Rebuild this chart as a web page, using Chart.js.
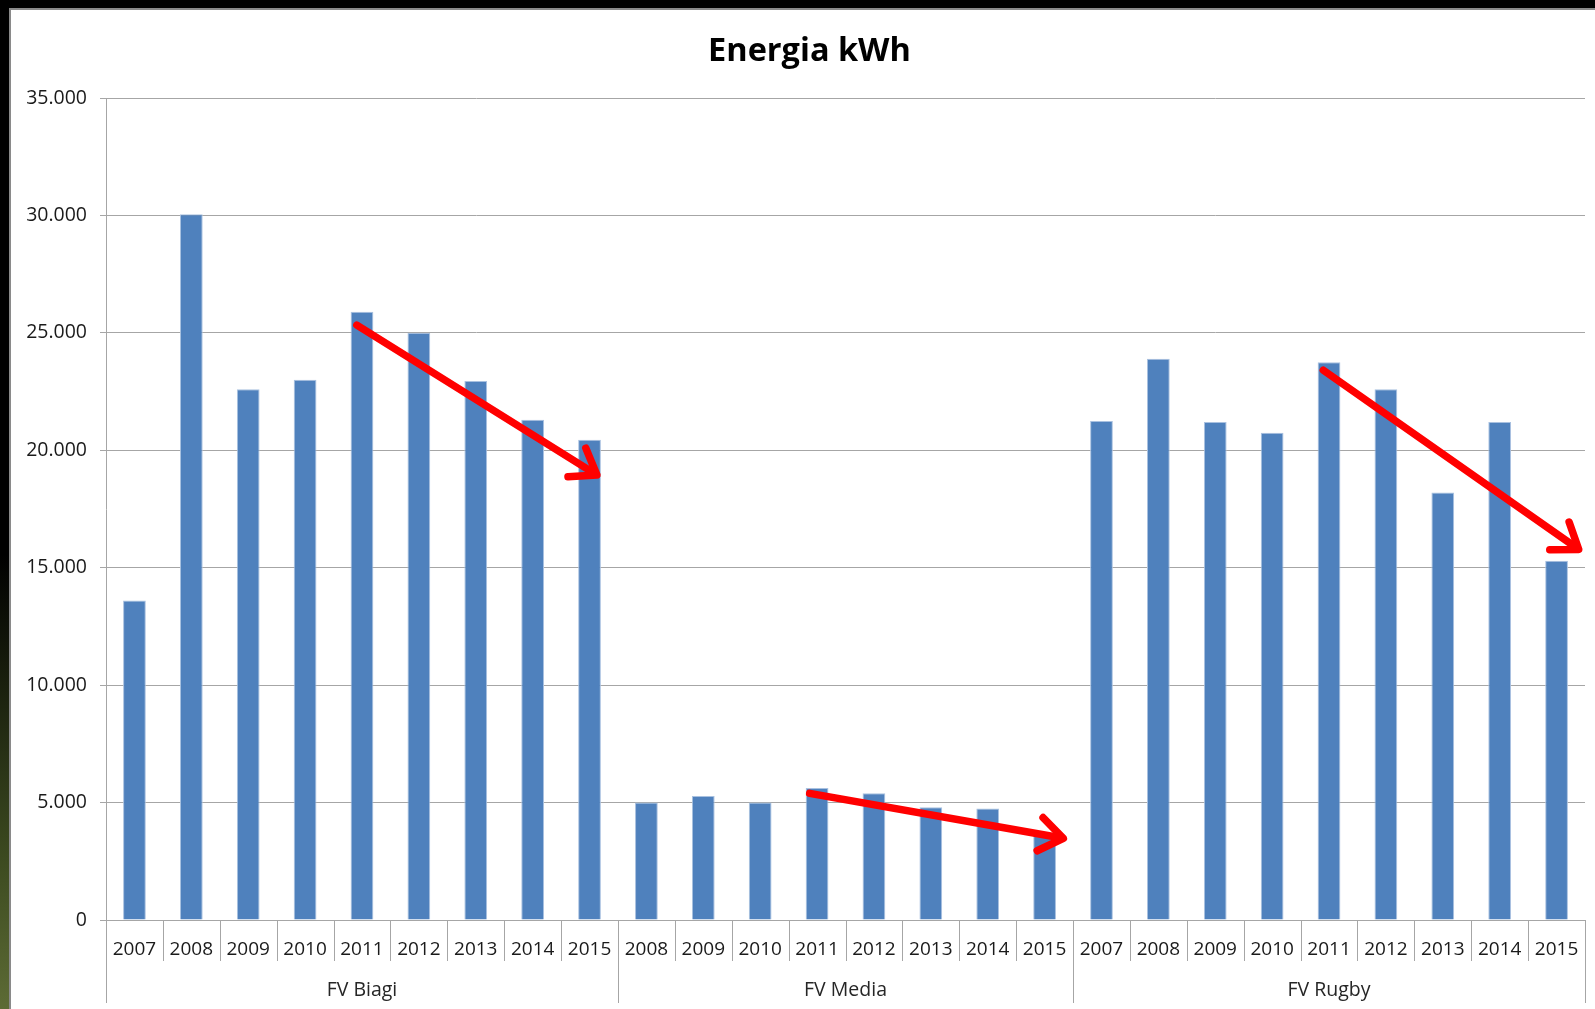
<!DOCTYPE html>
<html>
<head>
<meta charset="utf-8">
<title>Energia kWh</title>
<script src="https://cdn.jsdelivr.net/npm/chart.js@4/dist/chart.umd.min.js"></script>
<style>
  html, body { margin: 0; padding: 0; }
  body {
    width: 1595px; height: 1009px; overflow: hidden;
    background: linear-gradient(to bottom, #000 0%, #000 55%, #3c4a20 85%, #5d6b35 100%);
    position: relative;
  }
  #frame {
    position: absolute; left: 9px; top: 8px; right: 0; bottom: 0;
    background: #fff;
    border-left: 2px solid #8a8a8a;
    border-top: 2px solid #8a8a8a;
  }
  #wrap { position: absolute; left: 0; top: 0; width: 1595px; height: 1009px; }
</style>
</head>
<body>
<div id="frame"></div>
<div id="wrap"><canvas id="energyChart"></canvas></div>

<script>
// ---- data ----
const chartTitle = "Energia kWh";
const groups = ["FV Biagi", "FV Media", "FV Rugby"];
const biagiYears = ["2007", "2008", "2009", "2010", "2011", "2012", "2013", "2014", "2015"];
const mediaYears = ["2008", "2009", "2010", "2011", "2012", "2013", "2014", "2015"];
const rugbyYears = ["2007", "2008", "2009", "2010", "2011", "2012", "2013", "2014", "2015"];

const biagiValues = [13600, 30050, 22600, 23000, 25900, 25000, 22950, 21300, 20450];
const mediaValues = [5000, 5280, 5000, 5620, 5400, 4800, 4750, 3600];
const rugbyValues = [21250, 23900, 21200, 20750, 23750, 22600, 18200, 21200, 15300];

const yTicks = [0, 5000, 10000, 15000, 20000, 25000, 30000, 35000];

// red trend arrows: [start category index, start value, end category index, end value]
const trendArrows = [
  [3.91, 25330, 8.13, 18950],
  [11.87, 5390, 16.33, 3480],
  [20.90, 23410, 25.39, 15780]
];

// ---- build ----
const labels = [...biagiYears, ...mediaYears, ...rugbyYears];
const values = [...biagiValues, ...mediaValues, ...rugbyValues];
const groupSizes = [biagiYears.length, mediaYears.length, rugbyYears.length];

const FONT = "'Open Sans', 'Noto Sans', sans-serif";

function fmtIt(v) {
  return v.toLocaleString("it-IT");
}

/* =========================
   TITLE (slightly off-centre, like the original)
========================= */
const titlePlugin = {
  id: "offTitle",
  afterDraw(chart) {
    const ctx = chart.ctx;
    ctx.save();
    ctx.fillStyle = "#000";
    ctx.font = "bold 32.5px " + FONT;
    ctx.textAlign = "center";
    ctx.textBaseline = "middle";
    ctx.fillText(chartTitle, chart.width / 2 + 12, 52);
    ctx.restore();
  }
};

/* =========================
   GROUPED X AXIS
========================= */
const groupAxisPlugin = {
  id: "groupAxis",
  afterDraw(chart) {
    const ctx = chart.ctx;
    const x = chart.scales.x;
    const area = chart.chartArea;
    const step = x.getPixelForValue(1) - x.getPixelForValue(0);
    const shortEnd = area.bottom + 41;
    const longEnd = area.bottom + 83;

    ctx.save();
    ctx.strokeStyle = "#a6a6a6";
    ctx.lineWidth = 1;

    // boundaries between years
    const bounds = [0];
    let acc = 0;
    groupSizes.forEach(n => { acc += n; bounds.push(acc); });

    for (let i = 0; i <= labels.length; i++) {
      const px = Math.round(x.getPixelForValue(i) - step / 2) + 0.5;
      const end = bounds.includes(i) ? longEnd : shortEnd;
      ctx.beginPath();
      ctx.moveTo(px, area.bottom);
      ctx.lineTo(px, end);
      ctx.stroke();
    }

    // group names
    ctx.fillStyle = "#262626";
    ctx.font = "19.5px " + FONT;
    ctx.textAlign = "center";
    ctx.textBaseline = "middle";
    groups.forEach((g, k) => {
      const a = x.getPixelForValue(bounds[k]) - step / 2;
      const b = x.getPixelForValue(bounds[k + 1]) - step / 2;
      ctx.fillText(g, (a + b) / 2, area.bottom + 70);
    });
    ctx.restore();
  }
};

/* =========================
   TREND ARROWS
========================= */
const arrowPlugin = {
  id: "trendArrows",
  afterDatasetsDraw(chart) {
    const ctx = chart.ctx;
    const x = chart.scales.x;
    const y = chart.scales.y;
    const step = x.getPixelForValue(1) - x.getPixelForValue(0);
    const px = i => x.getPixelForValue(0) + i * step;

    ctx.save();
    ctx.strokeStyle = "#ff0000";
    ctx.lineWidth = 7.5;
    ctx.lineCap = "round";
    ctx.lineJoin = "round";

    trendArrows.forEach(a => {
      const x1 = px(a[0]), y1 = y.getPixelForValue(a[1]);
      const x2 = px(a[2]), y2 = y.getPixelForValue(a[3]);
      const ang = Math.atan2(y2 - y1, x2 - x1);
      const head = 29;
      const spread = 0.62;

      ctx.beginPath();
      ctx.moveTo(x1, y1);
      ctx.lineTo(x2 - 3 * Math.cos(ang), y2 - 3 * Math.sin(ang));
      ctx.stroke();

      ctx.beginPath();
      ctx.moveTo(x2 - head * Math.cos(ang - spread), y2 - head * Math.sin(ang - spread));
      ctx.lineTo(x2, y2);
      ctx.lineTo(x2 - head * Math.cos(ang + spread), y2 - head * Math.sin(ang + spread));
      ctx.stroke();
    });
    ctx.restore();
  }
};

const ctx = document.getElementById("energyChart");

new Chart(ctx, {
  type: "bar",
  data: {
    labels: labels,
    datasets: [{
      label: chartTitle,
      data: values,
      backgroundColor: "#4f81bd",
      borderColor: "#a9c1e0",
      borderWidth: { top: 1, left: 1, right: 1, bottom: 0 },
      borderSkipped: "bottom",
      barPercentage: 0.4,
      categoryPercentage: 1.0
    }]
  },
  options: {
    responsive: true,
    maintainAspectRatio: false,
    animation: false,
    devicePixelRatio: 1,
    layout: { padding: { left: 0, right: 10, top: 98, bottom: 0 } },
    plugins: {
      legend: { display: false },
      tooltip: { enabled: false },
      title: { display: false }
    },
    scales: {
      x: {
        grid: { display: false },
        border: { display: true, color: "#a6a6a6", width: 1 },
        ticks: {
          color: "#1a1a1a",
          font: { family: FONT, size: 19 },
          padding: 10,
          maxRotation: 0,
          autoSkip: false
        },
        afterFit(scale) { scale.height = 89; }
      },
      y: {
        min: 0,
        max: 35000,
        afterBuildTicks(scale) {
          scale.ticks = yTicks.map(v => ({ value: v }));
        },
        grid: {
          color: "#a6a6a6",
          lineWidth: 1,
          tickLength: 6,
          drawTicks: true
        },
        border: { display: true, color: "#a6a6a6", width: 1 },
        ticks: {
          color: "#1a1a1a",
          font: { family: FONT, size: 19.5 },
          padding: 13,
          callback: v => fmtIt(v)
        },
        afterFit(scale) { scale.width = 106; }
      }
    }
  },
  plugins: [titlePlugin, groupAxisPlugin, arrowPlugin]
});
</script>
</body>
</html>
